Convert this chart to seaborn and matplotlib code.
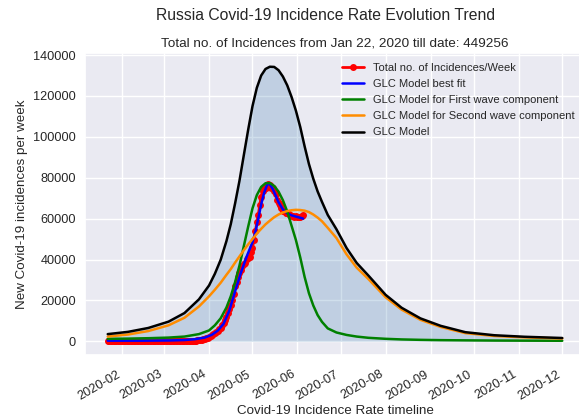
import matplotlib
matplotlib.use('Agg')
import matplotlib.pyplot as plt
import matplotlib.dates as mdates
import seaborn as sns
import pandas as pd

# weekly (7-day) new cases, one value per day from 2020-01-22
weekly_cases = [0] * 9 + [2] * 7 + [0] * 24 + [
    1, 1, 1, 2, 11, 11, 15, 14, 17, 17, 24, 32, 46, 46, 73, 94, 127, 171, 208, 247,
    304, 348, 381, 511, 641, 783, 958, 1167, 1398, 1842,
    2119, 2708, 3113, 3467, 3855, 4507, 5160, 5895, 6583, 7768, 8853, 10381, 11985,
    13605, 15818, 17807, 20091, 23209, 27083, 28793, 31661, 33509, 34835, 36614,
    37795, 38096, 40026, 40795, 41400, 43725,
    45809, 49466, 53738, 58121, 61812, 66530, 70662, 73428, 74622, 75001, 76076,
    76873, 76342, 75085, 74984, 73367, 72064, 69334, 67698, 66434, 65309, 63605,
    63839, 62729, 62749, 62401, 61975, 61497, 61175, 60693, 61362,
    60901, 60844, 61035, 61487, 61633]
data_start = '2020-01-22'

fit_dates = ['2020-01-22', '2020-02-15', '2020-03-05', '2020-03-15', '2020-03-22',
             '2020-03-29', '2020-04-03', '2020-04-07', '2020-04-11', '2020-04-15',
             '2020-04-19', '2020-04-23', '2020-04-27', '2020-05-01', '2020-05-03',
             '2020-05-05', '2020-05-07', '2020-05-09', '2020-05-11', '2020-05-12',
             '2020-05-13', '2020-05-15', '2020-05-17', '2020-05-19', '2020-05-22',
             '2020-05-25', '2020-05-28', '2020-06-01', '2020-06-05']
best_fit = [300, 300, 400, 600, 1000, 1800, 3200, 5200, 8500, 15000, 24500, 33500,
            41500, 48500, 53500, 60000, 67000, 72500, 76300, 77000, 76700, 74500,
            71300, 68000, 64500, 62600, 61600, 60800, 60000]

model_dates = ['2020-01-22', '2020-02-05', '2020-02-19', '2020-03-04', '2020-03-15',
               '2020-03-25', '2020-04-01', '2020-04-05', '2020-04-09', '2020-04-13',
               '2020-04-16', '2020-04-19', '2020-04-22', '2020-04-25', '2020-04-28',
               '2020-05-01', '2020-05-04', '2020-05-07', '2020-05-10', '2020-05-13',
               '2020-05-16', '2020-05-19', '2020-05-22', '2020-05-25', '2020-05-28',
               '2020-05-31', '2020-06-03', '2020-06-06', '2020-06-09', '2020-06-12',
               '2020-06-15', '2020-06-18', '2020-06-22', '2020-06-28', '2020-07-05',
               '2020-07-12', '2020-07-20', '2020-08-01', '2020-08-12', '2020-08-25',
               '2020-09-08', '2020-09-25', '2020-10-15', '2020-11-05', '2020-12-01']
first_wave = [1200, 1300, 1500, 1800, 2300, 3500, 5300, 7800, 11200, 16500, 22000,
              29000, 37000, 46500, 56000, 65000, 71500, 75500, 77300, 77400, 76000,
              73200, 69000, 63500, 56500, 49500, 41000, 31500, 23500, 17500, 12800,
              9500, 6300, 4300, 3100, 2300, 1700, 1200, 900, 700, 550, 450, 350, 300,
              250]
second_wave = [2300, 3300, 5000, 7800, 11500, 17000, 22000, 25200, 28600, 32500,
               35300, 38500, 41500, 44500, 47400, 50000, 52700, 55000, 57200, 59000,
               60700, 62000, 63000, 63700, 64100, 64300, 64200, 63900, 63200, 62000,
               60500, 58700, 55500, 50500, 42500, 36000, 30500, 21500, 15500, 10500,
               7000, 4000, 2600, 1900, 1350]
glc_model = [3500, 4600, 6500, 9600, 13800, 20500, 27300, 33000, 39800, 49000, 57300,
             67500, 78500, 91000, 103400, 115000, 124000, 130000, 133200, 134300,
             134200, 132600, 129500, 125200, 119500, 112800, 104800, 95400, 86700,
             79500, 73300, 68200, 61800, 54800, 45600, 38300, 32200, 22700, 16400,
             11200, 7550, 4450, 2950, 2200, 1600]

sns.set_theme(style='darkgrid')
plt.rcParams['font.family'] = ['Liberation Sans', 'DejaVu Sans']

days = pd.date_range(data_start, periods=len(weekly_cases), freq='D')
fit_x = pd.to_datetime(fit_dates)
model_x = pd.to_datetime(model_dates)

fig = plt.figure(figsize=(5.79, 4.19), dpi=100)
ax = fig.add_axes([85 / 579, 64 / 419, 500 / 579, 302 / 419])

ax.fill_between(model_x, 0, glc_model, color='steelblue', alpha=0.25, lw=0, zorder=1)
sns.lineplot(x=days, y=weekly_cases, ax=ax, color='red', marker='o', markersize=5,
             markeredgewidth=0, lw=2, label='Total no. of Incidences/Week',
             estimator=None)
sns.lineplot(x=fit_x, y=best_fit, ax=ax, color='blue', lw=1.8,
             label='GLC Model best fit', estimator=None)
sns.lineplot(x=model_x, y=first_wave, ax=ax, color='green', lw=1.8,
             label='GLC Model for First wave component', estimator=None)
sns.lineplot(x=model_x, y=second_wave, ax=ax, color='darkorange', lw=1.8,
             label='GLC Model for Second wave component', estimator=None)
sns.lineplot(x=model_x, y=glc_model, ax=ax, color='black', lw=1.8,
             label='GLC Model', estimator=None)

ax.xaxis.set_major_locator(mdates.MonthLocator())
ax.xaxis.set_major_formatter(mdates.DateFormatter('%Y-%m'))
plt.setp(ax.get_xticklabels(), rotation=30, ha='right')
ax.tick_params(labelsize=9.2)
ax.tick_params(axis='y', length=0, pad=6.5)

ax.set_xlabel('Covid-19 Incidence Rate timeline', fontsize=9.6, labelpad=2)
ax.set_ylabel('New Covid-19 incidences per week', fontsize=9.6)
ax.set_title('Total no. of Incidences from Jan 22, 2020 till date: 449256', fontsize=9.7,
             pad=4.5)
fig.suptitle('Russia Covid-19 Incidence Rate Evolution Trend', x=326 / 579, y=1 - 16 / 419,
             va='center', fontsize=11.3)
ax.legend(loc='upper right', frameon=False, fontsize=8, labelspacing=0.55)

fig.savefig('out.png', dpi=100)
